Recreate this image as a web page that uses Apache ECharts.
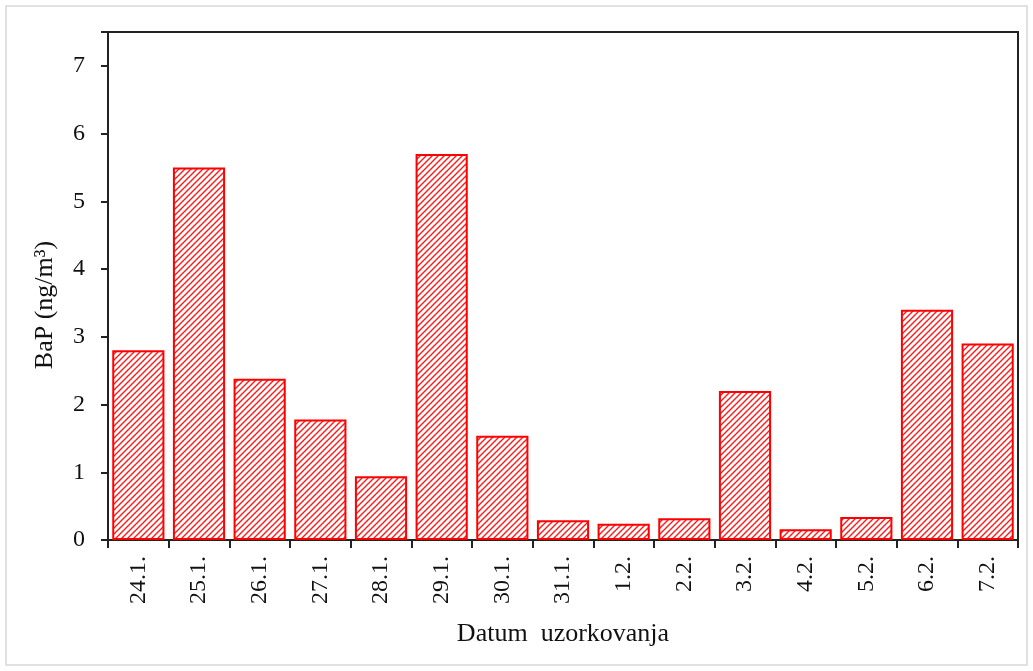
<!DOCTYPE html>
<html>
<head>
<meta charset="utf-8">
<script src="https://cdn.jsdelivr.net/npm/echarts@6/dist/echarts.min.js"></script>
<style>
html,body{margin:0;padding:0;background:#fff;}
#c{width:1033px;height:671px;}
</style>
</head>
<body>
<div id="c"></div>
<script>
const categories = ['24.1.','25.1.','26.1.','27.1.','28.1.','29.1.','30.1.','31.1.','1.2.','2.2.','3.2.','4.2.','5.2.','6.2.','7.2.'];
const bapValues = [2.8, 5.5, 2.38, 1.78, 0.94, 5.7, 1.54, 0.29, 0.24, 0.32, 2.2, 0.16, 0.34, 3.4, 2.9];
const yTicks = [0,1,2,3,4,5,6,7];

function hatch(){
  const s = 6;
  const cv = document.createElement('canvas');
  cv.width = s; cv.height = s;
  const g = cv.getContext('2d');
  g.fillStyle = '#fff'; g.fillRect(0,0,s,s);
  g.strokeStyle = '#ff1a1a'; g.lineWidth = 1.4;
  g.beginPath();
  g.moveTo(-1, s+1); g.lineTo(s+1, -1);
  g.moveTo(-1, 1); g.lineTo(1, -1);
  g.moveTo(s-1, s+1); g.lineTo(s+1, s-1);
  g.stroke();
  return cv;
}

const chart = echarts.init(document.getElementById('c'), null, {renderer:'canvas'});
const font = '"Liberation Serif", "Times New Roman", serif';
chart.setOption({
  animation:false,
  backgroundColor:'#fff',
  graphic:[{type:'rect', shape:{x:6,y:6,width:1021,height:659}, style:{fill:'none', stroke:'#d8d8d8', lineWidth:1.5}, silent:true}],
  grid:{left:108, right:15, top:32, bottom:131, show:true, borderColor:'#222', borderWidth:2, backgroundColor:'transparent'},
  xAxis:{
    type:'category', data:categories, boundaryGap:true,
    axisLine:{lineStyle:{color:'#222', width:2}},
    axisTick:{show:true, length:8, alignWithLabel:false, lineStyle:{color:'#222', width:2}},
    axisLabel:{rotate:90, margin:16, color:'#111', fontFamily:font, fontSize:24, interval:0},
    name:'Datum  uzorkovanja', nameLocation:'middle', nameGap:81, nameMoveOverlap:false,
    nameTextStyle:{fontFamily:font, fontSize:26, color:'#111'}
  },
  yAxis:{
    type:'value', min:0, max:7.5, interval:1,
    axisLine:{show:true, lineStyle:{color:'#222', width:2}},
    axisTick:{show:true, length:7, lineStyle:{color:'#222', width:2}},
    splitLine:{show:false},
    axisLabel:{margin:23, color:'#111', fontFamily:font, fontSize:24,
      formatter:function(v){ return yTicks.indexOf(v) >= 0 ? String(v) : ''; }},
    name:'BaP (ng/m³)', nameLocation:'middle', nameGap:50, nameRotate:90, nameMoveOverlap:false,
    nameTextStyle:{fontFamily:font, fontSize:26, color:'#111', padding:[0,38,0,0]}
  },
  series:[{
    type:'bar', data:bapValues, barCategoryGap:'14%',
    itemStyle:{color:{image:hatch(), repeat:'repeat'}, borderColor:'#ff0000', borderWidth:2}
  }]
});
</script>
</body>
</html>
